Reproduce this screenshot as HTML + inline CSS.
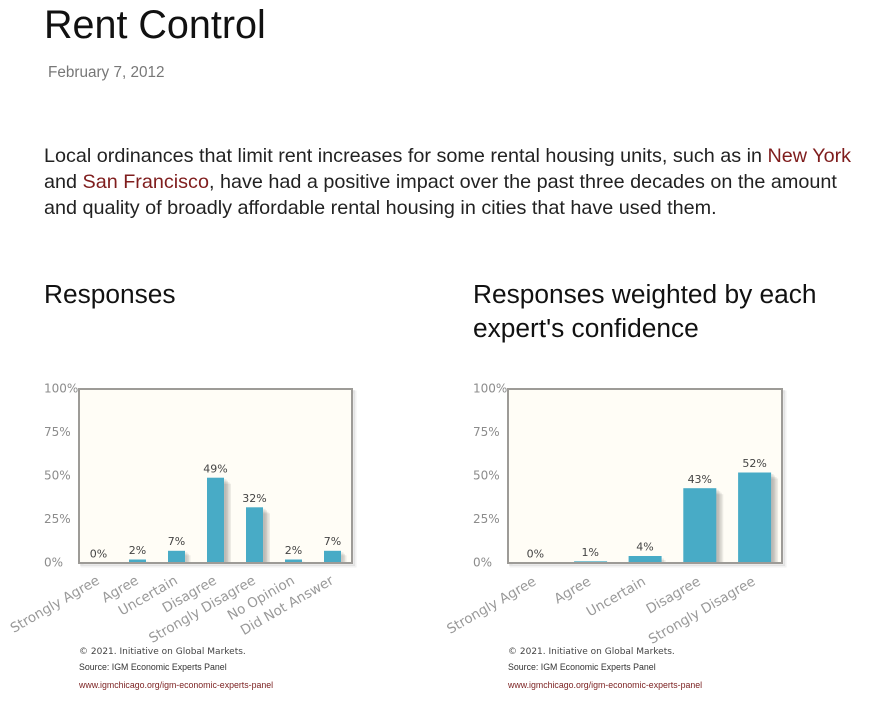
<!DOCTYPE html>
<html>
<head>
<meta charset="utf-8">
<style>
  html,body{margin:0;padding:0;background:#fff;}
  svg{display:block;}
  .h{font-family:"Liberation Sans",Arial,sans-serif;}
  .v{font-family:"DejaVu Sans",Verdana,sans-serif;}
</style>
</head>
<body>
<svg width="888" height="713" viewBox="0 0 888 713" xmlns="http://www.w3.org/2000/svg">
  <defs>
    <clipPath id="c1"><rect x="79" y="380" width="285" height="183"/></clipPath>
    <clipPath id="c2"><rect x="508" y="380" width="285" height="183"/></clipPath>
  </defs>

  <!-- Header -->
  <text class="h" x="44" y="38" font-size="39.5" fill="#111">Rent Control</text>
  <text class="h" x="48" y="77" font-size="15.3" fill="#777">February 7, 2012</text>

  <text class="h" font-size="19.8" fill="#222">
    <tspan x="44" y="162">Local ordinances that limit rent increases for some rental housing units, such as in <tspan fill="#7f1d1d">New York</tspan></tspan>
    <tspan x="44" y="188">and <tspan fill="#7f1d1d">San Francisco</tspan>, have had a positive impact over the past three decades on the amount</tspan>
    <tspan x="44" y="214">and quality of broadly affordable rental housing in cities that have used them.</tspan>
  </text>

  <text class="h" x="44" y="303" font-size="26.3" fill="#111">Responses</text>
  <text class="h" x="473" y="303" font-size="26.3" fill="#111">Responses weighted by each</text>
  <text class="h" x="473" y="337" font-size="26.3" fill="#111">expert's confidence</text>

  <!-- ===== Chart 1 ===== -->
  <g>
    <rect x="82" y="392" width="273" height="174" fill="none" stroke="#000" stroke-opacity="0.05" stroke-width="3"/>
    <rect x="81" y="391" width="273" height="174" fill="none" stroke="#000" stroke-opacity="0.06" stroke-width="2"/>
    <rect x="79" y="389" width="273" height="174" fill="#fffdf6" stroke="#9d9b97" stroke-width="2"/>

    <g class="v" font-size="12" fill="#8c8c8c">
      <text x="44" y="392.5">100%</text>
      <text x="44" y="436">75%</text>
      <text x="44" y="479.5">50%</text>
      <text x="44" y="523">25%</text>
      <text x="44" y="566.5">0%</text>
    </g>

    <g clip-path="url(#c1)" fill="#000" fill-opacity="0.07">
      <rect x="131.5" y="561.5" width="17" height="4"/><rect x="133" y="563" width="17" height="4"/>
      <rect x="170.5" y="552.3" width="17" height="12"/><rect x="172" y="553.8" width="17" height="12"/><rect x="173.5" y="555.3" width="17" height="12"/>
      <rect x="209.5" y="479.2" width="17" height="86"/><rect x="211" y="480.7" width="17" height="86"/><rect x="212.5" y="482.2" width="17" height="86"/><rect x="214" y="483.7" width="17" height="86"/>
      <rect x="248.5" y="508.8" width="17" height="56"/><rect x="250" y="510.3" width="17" height="56"/><rect x="251.5" y="511.8" width="17" height="56"/><rect x="253" y="513.3" width="17" height="56"/>
      <rect x="287.5" y="561.5" width="17" height="4"/><rect x="289" y="563" width="17" height="4"/>
      <rect x="326.5" y="552.3" width="17" height="12"/><rect x="328" y="553.8" width="17" height="12"/><rect x="329.5" y="555.3" width="17" height="12"/>
    </g>
    <g fill="#48abc6">
      <rect x="129" y="559.5" width="17" height="3.5"/>
      <rect x="168" y="550.8" width="17" height="12.2"/>
      <rect x="207" y="477.7" width="17" height="85.3"/>
      <rect x="246" y="507.3" width="17" height="55.7"/>
      <rect x="285" y="559.5" width="17" height="3.5"/>
      <rect x="324" y="550.8" width="17" height="12.2"/>
    </g>
    <line x1="79" y1="563" x2="352" y2="563" stroke="#9d9b97" stroke-width="2"/>

    <g class="v" font-size="11" fill="#444" text-anchor="middle">
      <text x="98.5" y="557.5">0%</text>
      <text x="137.5" y="554">2%</text>
      <text x="176.5" y="545">7%</text>
      <text x="215.5" y="472.5">49%</text>
      <text x="254.5" y="502">32%</text>
      <text x="293.5" y="554">2%</text>
      <text x="332.5" y="545">7%</text>
    </g>

    <g class="v" font-size="13.5" fill="#999" text-anchor="end">
      <text transform="translate(100.5,583) rotate(-30)">Strongly Agree</text>
      <text transform="translate(139.5,583) rotate(-30)">Agree</text>
      <text transform="translate(178.5,583) rotate(-30)">Uncertain</text>
      <text transform="translate(217.5,583) rotate(-30)">Disagree</text>
      <text transform="translate(256.5,583) rotate(-30)">Strongly Disagree</text>
      <text transform="translate(295.5,583) rotate(-30)">No Opinion</text>
      <text transform="translate(334.5,583) rotate(-30)">Did Not Answer</text>
    </g>

    <text class="v" x="79" y="654" font-size="9" fill="#444">© 2021. Initiative on Global Markets.</text>
    <text class="h" x="79" y="670" font-size="8.8" fill="#333">Source: IGM Economic Experts Panel</text>
    <text class="h" x="79" y="688" font-size="8.8" fill="#7a1f1f">www.igmchicago.org/igm-economic-experts-panel</text>
  </g>

  <!-- ===== Chart 2 ===== -->
  <g>
    <rect x="511" y="392" width="274" height="174" fill="none" stroke="#000" stroke-opacity="0.05" stroke-width="3"/>
    <rect x="510" y="391" width="274" height="174" fill="none" stroke="#000" stroke-opacity="0.06" stroke-width="2"/>
    <rect x="508" y="389" width="274" height="174" fill="#fffdf6" stroke="#9d9b97" stroke-width="2"/>

    <g class="v" font-size="12" fill="#8c8c8c">
      <text x="473" y="392.5">100%</text>
      <text x="473" y="436">75%</text>
      <text x="473" y="479.5">50%</text>
      <text x="473" y="523">25%</text>
      <text x="473" y="566.5">0%</text>
    </g>

    <g clip-path="url(#c2)" fill="#000" fill-opacity="0.07">
      <rect x="576.6" y="563" width="33" height="3"/>
      <rect x="631.1" y="558.5" width="33" height="8"/><rect x="632.6" y="560" width="33" height="8"/>
      <rect x="685.8" y="489.7" width="33" height="76"/><rect x="687.3" y="491.2" width="33" height="76"/><rect x="688.8" y="492.7" width="33" height="76"/><rect x="690.3" y="494.2" width="33" height="76"/>
      <rect x="740.6" y="474" width="33" height="92"/><rect x="742.1" y="475.5" width="33" height="92"/><rect x="743.6" y="477" width="33" height="92"/><rect x="745.1" y="478.5" width="33" height="92"/>
    </g>
    <g fill="#48abc6">
      <rect x="574.1" y="561.3" width="33" height="1.7"/>
      <rect x="628.6" y="556" width="33" height="7"/>
      <rect x="683.3" y="488.2" width="33" height="74.8"/>
      <rect x="738.1" y="472.5" width="33" height="90.5"/>
    </g>
    <line x1="508" y1="563" x2="782" y2="563" stroke="#9d9b97" stroke-width="2"/>

    <g class="v" font-size="11" fill="#444" text-anchor="middle">
      <text x="535.4" y="557.5">0%</text>
      <text x="590.2" y="556">1%</text>
      <text x="645" y="550.5">4%</text>
      <text x="699.8" y="483">43%</text>
      <text x="754.6" y="467">52%</text>
    </g>

    <g class="v" font-size="13.5" fill="#999" text-anchor="end">
      <text transform="translate(537,584) rotate(-30)">Strongly Agree</text>
      <text transform="translate(591.8,584) rotate(-30)">Agree</text>
      <text transform="translate(646.6,584) rotate(-30)">Uncertain</text>
      <text transform="translate(701.4,584) rotate(-30)">Disagree</text>
      <text transform="translate(756.2,584) rotate(-30)">Strongly Disagree</text>
    </g>

    <text class="v" x="508" y="654" font-size="9" fill="#444">© 2021. Initiative on Global Markets.</text>
    <text class="h" x="508" y="670" font-size="8.8" fill="#333">Source: IGM Economic Experts Panel</text>
    <text class="h" x="508" y="688" font-size="8.8" fill="#7a1f1f">www.igmchicago.org/igm-economic-experts-panel</text>
  </g>
</svg>
</body>
</html>
